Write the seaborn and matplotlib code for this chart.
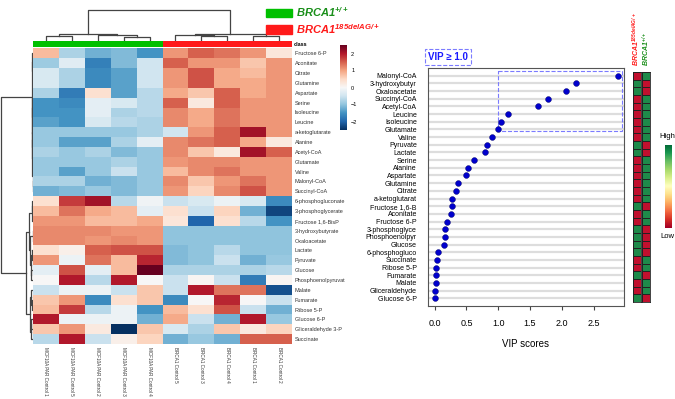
import matplotlib
matplotlib.use('Agg')
import matplotlib.pyplot as plt
import numpy as np
import pandas as pd
import seaborn as sns
from matplotlib.colors import ListedColormap
from matplotlib.patches import Patch, Rectangle

# heatmap data (rows = metabolites, columns = samples in display order)
heat_rows = ['Fructose 6-P', 'Aconitate', 'Citrate', 'Glutamine', 'Aspartate', 'Serine',
             'Isoleucine', 'Leucine', 'a-ketoglutarate', 'Alanine', 'Acetyl-CoA', 'Glutamate',
             'Valine', 'Malonyl-CoA', 'Succinyl-CoA', '6-phosphogluconate', '3-phosphoglycerate',
             'Fructose 1,6-BisP', '3-hydroxybutyrate', 'Oxaloacetate', 'Lactate', 'Pyruvate',
             'Glucose', 'Phosphoenolpyruvat', 'Malate', 'Fumarate', 'Ribose 5-P', 'Glucose 6-P',
             'Gliceraldehyde 3-P', 'Succinate']
heat_cols = ['MCF10A PAR Control 1', 'MCF10A PAR Control 5', 'MCF10A PAR Control 2',
             'MCF10A PAR Control 3', 'MCF10A PAR Control 4', 'BRCA1 Control 5',
             'BRCA1 Control 3', 'BRCA1 Control 4', 'BRCA1 Control 1', 'BRCA1 Control 2']
heat_class = [0, 0, 0, 0, 0, 1, 1, 1, 1, 1]
heat_values = [
    [0.8, -0.8, -1.2, -1.1, -1.5, 1.1, 1.5, 1.35, 1.1, 0.3],
    [-0.9, -0.3, -1.7, -1.1, -0.5, 1.5, 1.1, 1.1, 0.7, 1.1],
    [-0.4, -0.8, -1.6, -1.35, -0.5, 1.1, 1.6, 0.95, 0.8, 1.1],
    [-0.4, -0.8, -1.6, -1.35, -0.5, 1.1, 1.6, 0.95, 0.95, 1.1],
    [-0.8, -1.75, 0.4, -1.35, -0.7, 0.95, 0.7, 1.5, 0.95, 1.1],
    [-1.5, -1.6, -0.25, -0.4, -0.7, 1.5, 0.25, 1.5, 1.1, 1.1],
    [-1.5, -1.5, -0.25, -0.8, -0.7, 1.2, 0.95, 1.35, 1.1, 1.1],
    [-1.35, -1.5, -0.4, -0.7, -0.8, 1.2, 0.95, 1.35, 1.1, 1.1],
    [-0.95, -0.95, -0.95, -0.95, -0.8, -0.5, 1.1, 1.5, 2.1, 1.1],
    [-0.95, -1.35, -1.35, -0.8, -0.25, 1.2, 1.35, 1.5, 0.95, 0.25],
    [-0.8, -0.95, -0.8, -1.1, -0.95, 1.2, 0.7, 0.25, 2.1, 1.5],
    [-0.95, -0.95, -0.95, -0.8, -0.95, 1.1, 1.2, 1.2, 1.1, 1.1],
    [-0.95, -1.35, -0.95, -0.55, -0.95, 0.8, 1.2, 1.35, 1.1, 1.1],
    [-0.8, -0.8, -1.2, -1.1, -0.95, 1.2, 0.7, 1.1, 1.35, 1.1],
    [-1.2, -1.1, -0.95, -1.1, -0.95, 1.1, 0.55, 1.2, 1.6, 1.1],
    [0.4, 1.75, 2.1, -0.7, -0.1, -0.55, -0.4, -0.15, -0.4, -1.6],
    [0.8, 1.35, 0.95, 0.8, -0.25, 0.4, -0.55, 0.55, -1.2, -2.3],
    [1.1, 1.1, 0.8, 0.8, 0.95, 0.3, -2.0, 0.4, -0.7, -1.5],
    [1.2, 1.2, 1.2, 1.1, 1.1, -1.0, -1.0, -1.0, -1.0, -1.0],
    [1.2, 1.2, 1.1, 1.2, 1.1, -1.0, -1.0, -1.0, -1.0, -1.0],
    [0.4, 0.15, 1.5, 1.6, 1.6, -1.1, -1.0, -0.7, -1.0, -1.0],
    [1.1, -0.15, 1.35, 0.8, 1.9, -1.1, -1.0, -0.55, -1.2, -0.95],
    [-0.25, 1.6, -0.25, 0.8, 2.6, -0.8, -0.8, -0.8, -0.8, -0.7],
    [0.0, 2.0, -0.7, 2.0, 0.0, -0.55, 0.05, -0.55, -1.75, 0.05],
    [-0.55, -0.15, -0.15, -0.55, 0.7, -0.55, 2.0, 1.35, 1.35, -2.2],
    [0.7, 1.1, -1.6, 0.4, 0.7, -1.6, 0.0, 1.9, 0.0, -0.55],
    [0.8, 1.75, -0.7, -0.15, -1.5, 0.8, 0.4, 1.6, -0.55, -1.2],
    [2.0, -0.15, -0.15, -0.15, -1.2, 0.95, -0.55, -1.2, 2.0, -0.95],
    [0.7, 1.1, 0.25, -2.6, 0.7, -0.4, -0.8, 0.7, 0.25, 0.55],
    [-0.7, 2.0, -0.55, 0.15, 0.55, -1.2, -0.95, -1.2, 1.5, 1.5],
]

# dendrograms: [left, right, merge height], leaves are display indices
col_tree = [[[0, 1, 5], [2, [3, 4, 4], 6], 7],
            [[5, [6, 7, 4.5], 6], [8, 9, 5], 7], 31]
row_top = [[0, [1, [2, 3, 0.2], 0.4], 0.7],
           [[[4, 5, 0.5], [6, 7, 0.2], 0.6],
            [[8, [9, 10, 0.4], 0.6], [[11, 12, 0.3], [13, 14, 0.3], 0.5], 0.8], 1.0], 1.2]
row_bottom = [[[[15, 16, 1.0], 17, 1.5],
               [[18, 19, 0.3], [[20, 21, 1.0], [22, 23, 1.8], 2.2], 3.0], 4.5],
              [[24, [25, 26, 1.5], 2.0], [[27, 28, 1.8], 29, 2.5], 3.5], 7.0]
row_tree = [row_top, row_bottom, 32]

# VIP scores
vip_names = ['Malonyl-CoA', '3-hydroxybutyr', 'Oxaloacetate', 'Succinyl-CoA', 'Acetyl-CoA',
             'Leucine', 'Isoleucine', 'Glutamate', 'Valine', 'Pyruvate', 'Lactate', 'Serine',
             'Alanine', 'Aspartate', 'Glutamine', 'Citrate', 'a-ketoglutarat', 'Fructose 1,6-B',
             'Aconitate', 'Fructose 6-P', '3-phosphoglyce', 'Phosphoenolpyr', 'Glucose',
             '6-phosphogluco', 'Succinate', 'Ribose 5-P', 'Fumarate', 'Malate', 'Gliceraldehyde',
             'Glucose 6-P']
vip_scores = [2.88, 2.22, 2.07, 1.78, 1.62, 1.16, 1.04, 0.99, 0.91, 0.82, 0.79, 0.62, 0.52,
              0.50, 0.36, 0.34, 0.27, 0.27, 0.26, 0.19, 0.17, 0.16, 0.15, 0.05, 0.04, 0.02,
              0.02, 0.02, 0.01, 0.01]
vip_mut_high = [1, 0, 0, 1, 1, 1, 1, 1, 1, 0, 0, 1, 1, 1, 1, 1, 1, 0, 1, 1, 0, 0, 0, 0, 1, 1,
                0, 1, 1, 0]
vip_cut = 1.0

plt.rcParams['font.family'] = ['Liberation Sans', 'DejaVu Sans']
plt.rcParams['mathtext.fontset'] = 'custom'
plt.rcParams['mathtext.it'] = 'Liberation Sans:italic:bold'
plt.rcParams['mathtext.rm'] = 'Liberation Sans:italic:bold'
plt.rcParams['mathtext.bf'] = 'Liberation Sans:italic:bold'

W, H = 675, 399
fig = plt.figure(figsize=(W / 100, H / 100), dpi=100)


def box(x0, y0, x1, y1):
    return [x0 / W, 1 - y1 / H, (x1 - x0) / W, (y1 - y0) / H]


def draw_tree(ax, node, side):
    if isinstance(node, int):
        return node + 0.5, 0
    left, right, h = node
    pl, hl = draw_tree(ax, left, side)
    pr, hr = draw_tree(ax, right, side)
    if side == 'top':
        ax.plot([pl, pl, pr, pr], [hl, h, h, hr], color='#444444', lw=0.9)
    else:
        ax.plot([hl, h, h, hr], [pl, pl, pr, pr], color='#444444', lw=0.9)
    return (pl + pr) / 2, h


green = '#00c000'
red = '#ff1a1a'

# main heatmap
ax_hm = fig.add_axes(box(33, 48.4, 292, 344))
ax_cb = fig.add_axes(box(340, 45, 347, 130))
df = pd.DataFrame(heat_values, index=heat_rows, columns=heat_cols)
sns.heatmap(df, ax=ax_hm, cmap='RdBu_r', vmin=-2.5, vmax=2.5, cbar_ax=ax_cb,
            cbar_kws={'ticks': [-2, -1, 0, 1, 2]}, xticklabels=True, yticklabels=True)
ax_hm.yaxis.tick_right()
ax_hm.tick_params(axis='both', length=0, pad=2)
plt.setp(ax_hm.get_yticklabels(), rotation=0, fontsize=4, color='#333333')
plt.setp(ax_hm.get_xticklabels(), rotation=270, fontsize=3.3, color='#333333',
         va='top', ha='center')
cb = ax_hm.collections[0].colorbar
cb.outline.set_visible(False)
cb.ax.tick_params(labelsize=4, length=0, pad=3)

# class bar
ax_cls = fig.add_axes(box(33, 41, 292, 47))
sns.heatmap(np.array([heat_class]), ax=ax_cls, cmap=ListedColormap([green, red]),
            cbar=False, xticklabels=False, yticklabels=False)
ax_cls.text(1.005, 0.5, 'class', transform=ax_cls.transAxes, fontsize=4,
            fontweight='bold', va='center', ha='left')

# dendrograms
ax_cd = fig.add_axes(box(33, 8, 292, 40.5))
draw_tree(ax_cd, col_tree, 'top')
ax_cd.set_xlim(0, len(heat_cols))
ax_cd.set_ylim(0, 32.5)
ax_cd.axis('off')

ax_rd = fig.add_axes(box(0, 48.4, 33, 344))
draw_tree(ax_rd, row_tree, 'left')
ax_rd.set_xlim(33, 0)
ax_rd.set_ylim(len(heat_rows), 0)
ax_rd.axis('off')

# group legend
fig.legend(handles=[Patch(color=green), Patch(color=red)],
           labels=[r'$BRCA1^{+/+}$', r'$BRCA1^{185delAG/+}$'],
           loc='upper left', bbox_to_anchor=(256 / W, 1.012), frameon=False,
           fontsize=8, handlelength=2.3, handleheight=0.8, handletextpad=0.4,
           labelspacing=0.25, labelcolor=['#1a8f1a', red])

# VIP dot plot
ax_vip = fig.add_axes(box(428, 68, 624, 306))
sns.stripplot(x=vip_scores, y=vip_names, ax=ax_vip, jitter=False, orient='h',
              color='#0000cc', size=4.2, linewidth=0.3, edgecolor='#000066', zorder=3)
xmin, xmax = -0.105, 2.98
ax_vip.hlines(range(len(vip_names)), xmin, xmax, color='#dddddd', lw=1.6, zorder=1)
ax_vip.set_xlim(xmin, xmax)
ax_vip.set_ylim(len(vip_names), -1)
ax_vip.set_xticks([0, 0.5, 1.0, 1.5, 2.0, 2.5])
ax_vip.set_xticklabels(['0.0', '0.5', '1.0', '1.5', '2.0', '2.5'])
ax_vip.tick_params(axis='x', labelsize=6.5, length=3, color='#444444', pad=6)
ax_vip.tick_params(axis='y', labelsize=5, length=0, pad=8)
ax_vip.set_xlabel('VIP scores', fontsize=7, labelpad=8)
ax_vip.set_ylabel('')
for s in ax_vip.spines.values():
    s.set_color('#555555')
    s.set_linewidth(0.8)
n_sig = sum(v >= vip_cut * 0.98 for v in vip_scores)
ax_vip.add_patch(Rectangle((vip_cut, -0.6), 2.95 - vip_cut, n_sig - 0.2, fill=False,
                           ec='#7b7bff', ls='--', lw=0.8, zorder=2))
ax_vip.text(0.0, 1.045, 'VIP \u2265 1.0', transform=ax_vip.transAxes, fontsize=7,
            fontweight='bold', color='#1a1aff', ha='left', va='center',
            bbox=dict(boxstyle='square,pad=0.3', fc='white', ec='#7b7bff', ls='--', lw=0.8))

# high/low side columns
flag_cmap = ListedColormap(['#1e8a4a', '#c0102e'])
flags = [np.array(vip_mut_high), 1 - np.array(vip_mut_high)]
heads = [(r'$BRCA1^{185delAG/+}$', red), (r'$BRCA1^{+/+}$', '#1a8f1a')]
for i, (vals, (lab, col)) in enumerate(zip(flags, heads)):
    x0 = 633 + i * 9
    ax_f = fig.add_axes(box(x0, 72, x0 + 8, 302))
    sns.heatmap(vals.reshape(-1, 1), ax=ax_f, cmap=flag_cmap, vmin=0, vmax=1, cbar=False,
                xticklabels=False, yticklabels=False, linewidths=0.5, linecolor='#222222')
    for s in ax_f.spines.values():
        s.set_visible(True)
        s.set_color('#222222')
        s.set_linewidth(0.6)
    ax_f.text(0.4 + 0.2 * i, 1.025, lab, transform=ax_f.transAxes, rotation=90, fontsize=5,
              color=col, ha='center', va='bottom')

# High / Low gradient key
ax_key = fig.add_axes(box(665, 145, 672, 228))
ax_key.imshow(np.linspace(1, 0, 100).reshape(-1, 1), cmap='RdYlGn', aspect='auto')
ax_key.set_xticks([])
ax_key.set_yticks([])
for s in ax_key.spines.values():
    s.set_visible(False)
fig.text(667 / W, 1 - 137 / H, 'High', fontsize=5.5, ha='center', va='center')
fig.text(667 / W, 1 - 237 / H, 'Low', fontsize=5.5, ha='center', va='center')

fig.savefig('out.png', dpi=100, facecolor='white')
